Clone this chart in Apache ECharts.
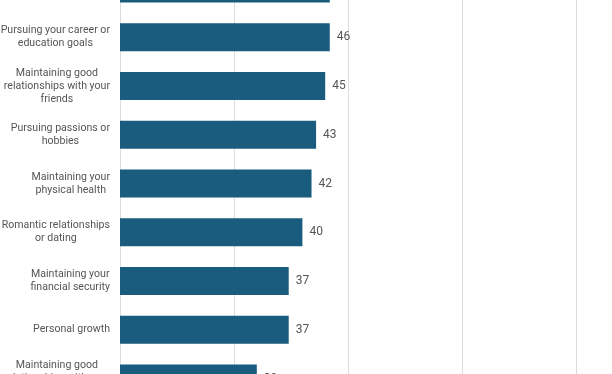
<!DOCTYPE html>
<html>
<head>
<meta charset="utf-8">
<script src="https://cdn.jsdelivr.net/npm/echarts@6/dist/echarts.min.js"></script>
<style>
html,body{margin:0;padding:0;background:#fff;overflow:hidden;width:612px;height:374px;position:relative;}
#chart{width:612px;height:439px;position:absolute;left:0;top:-36.5px;}
</style>
</head>
<body>
<div id="chart"></div>
<script>
var categories = [
  "Maintaining your\nmental health",
  "Pursuing your career or\neducation goals",
  "Maintaining good\nrelationships with your\nfriends",
  "Pursuing passions or\nhobbies",
  "Maintaining your\nphysical health",
  "Romantic relationships\nor dating",
  "Maintaining your\nfinancial security",
  "Personal growth",
  "Maintaining good\nrelationships with your\nfamily"
];
var values = [46, 46, 45, 43, 42, 40, 37, 37, 30];
var xTicks = [0, 25, 50, 75, 100];

var chart = echarts.init(document.getElementById('chart'), null, {renderer: 'canvas'});
chart.setOption({
  animation: false,
  backgroundColor: '#ffffff',
  grid: {left: 120, right: 36, top: 0, bottom: 0, outerBoundsMode: 'none', containLabel: false},
  xAxis: {
    type: 'value',
    min: xTicks[0],
    max: xTicks[xTicks.length - 1],
    interval: 25,
    axisLabel: {show: false},
    axisLine: {show: false},
    axisTick: {show: false},
    splitLine: {show: true, lineStyle: {color: '#dcdcdc', width: 1}}
  },
  yAxis: {
    type: 'category',
    data: categories,
    inverse: true,
    axisLine: {show: false},
    axisTick: {show: false},
    axisLabel: {
      margin: 10,
      align: 'right',
      formatter: function (v) {
        return v.split('\n').map(function (s) { return '{c|' + s + '}'; }).join('\n');
      },
      rich: {
        c: {
          align: 'center',
          color: '#555555',
          fontFamily: 'Roboto',
          fontSize: 10.6,
          lineHeight: 13
        }
      }
    }
  },
  series: [{
    type: 'bar',
    data: values,
    barWidth: 28,
    itemStyle: {color: '#195c7d'},
    label: {
      show: true,
      position: 'right',
      distance: 7,
      color: '#555555',
      fontFamily: 'Roboto',
      fontSize: 12
    }
  }]
});
</script>
</body>
</html>
